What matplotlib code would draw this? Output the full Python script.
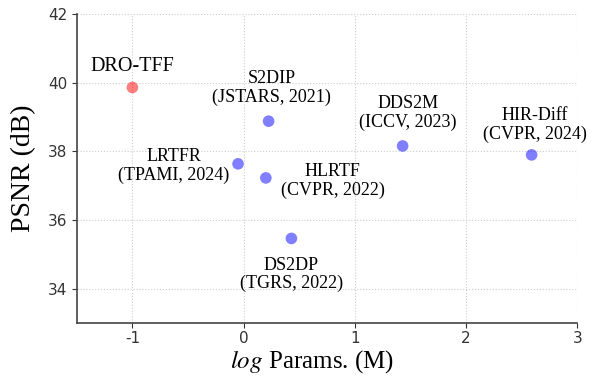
import matplotlib
matplotlib.use('Agg')
import matplotlib.pyplot as plt

plt.rcParams['mathtext.fontset'] = 'stix'
plt.rcParams['axes.unicode_minus'] = False

names = ['DRO-TFF', 'S2DIP', 'LRTFR', 'HLRTF', 'DS2DP', 'DDS2M', 'HIR-Diff']
venues = ['', '(JSTARS, 2021)', '(TPAMI, 2024)', '(CVPR, 2022)', '(TGRS, 2022)',
          '(ICCV, 2023)', '(CVPR, 2024)']
log_params = [-1.0, 0.225, -0.05, 0.2, 0.43, 1.43, 2.59]
psnr = [39.86, 38.88, 37.64, 37.23, 35.47, 38.16, 37.90]
colors = ['red', 'blue', 'blue', 'blue', 'blue', 'blue', 'blue']
# label offsets in pixels (dx, dy)
offsets = [(0, 21), (3, 33), (-64, -2), (67, -3), (0, -36), (5, 33), (3, 30)]

serif = ['Liberation Serif', 'DejaVu Serif']

fig = plt.figure(figsize=(6, 3.76), dpi=100)
ax = fig.add_axes([0.128, 0.14, 0.834, 0.823])

ax.scatter(log_params, psnr, c=colors, alpha=0.5, s=70, edgecolors='none', zorder=3)

for i, n in enumerate(names):
    txt = n if not venues[i] else n + '\n' + venues[i]
    fs = 14.5 if i == 0 else 13
    ax.annotate(txt, (log_params[i], psnr[i]), xytext=offsets[i], textcoords='offset pixels',
                ha='center', va='center', fontsize=fs, family=serif, linespacing=1.1)

ax.set_xlim(-1.5, 3)
ax.set_ylim(33, 42)
ax.set_xticks([-1, 0, 1, 2, 3])
ax.set_yticks([34, 36, 38, 40, 42])
ax.grid(True, linestyle=':', color='#cccccc', linewidth=0.8)
ax.set_axisbelow(True)
for s in ['top', 'right']:
    ax.spines[s].set_visible(False)
for s in ['left', 'bottom']:
    ax.spines[s].set_color('#444444')
    ax.spines[s].set_linewidth(1.2)
ax.tick_params(labelsize=11, colors='#333333')
ax.tick_params(axis='x', pad=2)

ax.set_xlabel(r'$log$ Params. (M)', fontsize=18, family=serif, labelpad=0)
ax.xaxis.set_label_coords(0.47, -0.08)
ax.xaxis.label.set_va('top')
ax.set_ylabel('PSNR (dB)', fontsize=20, family=serif, labelpad=8)

fig.savefig('out.png', dpi=100)
